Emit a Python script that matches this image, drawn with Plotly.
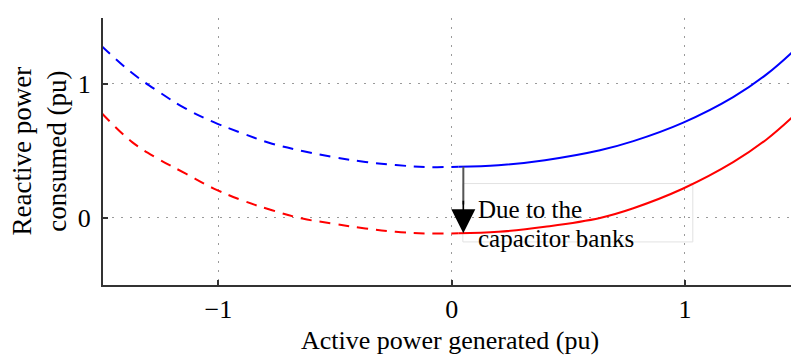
import plotly.graph_objects as go

# ---- data ----
blue_dash_x = [-1.5, -1.37, -1.26, -1.14, -1.02, -0.9, -0.77, -0.64, -0.51, -0.37, -0.24, -0.1, 0.03]
blue_dash_y = [1.28, 1.08, 0.945, 0.814, 0.714, 0.632, 0.553, 0.499, 0.454, 0.417, 0.394, 0.379, 0.381]
red_dash_x = [-1.5, -1.37, -1.26, -1.14, -1.02, -0.9, -0.77, -0.64, -0.51, -0.37, -0.24, -0.1, 0.03]
red_dash_y = [0.78, 0.565, 0.442, 0.33, 0.219, 0.132, 0.057, -0.005, -0.042, -0.079, -0.104, -0.116, -0.115]

blue_solid_x = [0.03, 0.2, 0.4, 0.636, 0.779, 0.993, 1.207, 1.35, 1.46]
blue_solid_y = [0.381, 0.392, 0.43, 0.504, 0.572, 0.71, 0.90, 1.07, 1.235]
red_solid_x = [0.03, 0.2, 0.4, 0.636, 0.779, 0.993, 1.207, 1.35, 1.46]
red_solid_y = [-0.115, -0.104, -0.066, 0.0, 0.072, 0.219, 0.415, 0.585, 0.75]

x_ticks = [-1, 0, 1]
y_ticks = [0, 1]

arrow_x = 0.05
annot_lines = ["Due to the", "capacitor banks"]

FONT = "Liberation Serif, Times New Roman, serif"
FS = 26
AX = "#333333"
GRID = "#9a9a9a"

fig = go.Figure()
for xs, ys, col, dash in [
    (blue_dash_x, blue_dash_y, "#0000ff", "11px,8px"),
    (red_dash_x, red_dash_y, "#ff0000", "11px,8px"),
    (blue_solid_x, blue_solid_y, "#0000ff", "solid"),
    (red_solid_x, red_solid_y, "#ff0000", "solid"),
]:
    fig.add_trace(go.Scatter(x=xs, y=ys, mode="lines",
                             line=dict(color=col, width=2, dash=dash,
                                       shape="spline", smoothing=1.1),
                             showlegend=False))

# text box
fig.add_shape(type="rect", x0=0.048, x1=1.034, y0=-0.179, y1=0.256,
              line=dict(color="#e2e2e2", width=1), layer="below")
# arrow stem
fig.add_shape(type="line", x0=arrow_x, x1=arrow_x, y0=blue_solid_y[0], y1=0.1,
              line=dict(color="#555555", width=2))
# arrow head
fig.add_annotation(x=arrow_x, y=red_solid_y[0], ax=arrow_x, ay=0.14,
                   xref="x", yref="y", axref="x", ayref="y",
                   showarrow=True, arrowhead=2, arrowsize=3, arrowwidth=1.6,
                   arrowcolor="#000000", text="")

fig.add_annotation(x=0.104, y=0.062, xref="x", yref="y", text=annot_lines[0],
                   showarrow=False, xanchor="left", yanchor="middle",
                   font=dict(family=FONT, size=25, color="#000"))
fig.add_annotation(x=0.104, y=-0.155, xref="x", yref="y", text=annot_lines[1],
                   showarrow=False, xanchor="left", yanchor="middle",
                   font=dict(family=FONT, size=25, color="#000"))

# axis titles
fig.add_annotation(x=-0.093, y=0.5, xref="paper", yref="paper",
                   text="Reactive power<br>consumed (pu)", textangle=-90,
                   showarrow=False, xanchor="center", yanchor="middle",
                   font=dict(family=FONT, size=27, color="#000"))
fig.add_annotation(x=0.505, y=-0.206, xref="paper", yref="paper",
                   text="Active power generated (pu)",
                   showarrow=False, xanchor="center", yanchor="middle",
                   font=dict(family=FONT, size=FS, color="#000"))

fig.update_layout(
    width=791, height=356,
    margin=dict(l=103, r=0, t=18, b=71),
    paper_bgcolor="white", plot_bgcolor="white",
    font=dict(family=FONT, size=FS, color="#000"),
    xaxis=dict(range=[-1.495, 1.455], tickvals=x_ticks, showgrid=True,
               gridcolor=GRID, griddash="2px,7px", gridwidth=1,
               showline=True, linecolor=AX, linewidth=2, ticks="inside",
               ticklen=5, tickcolor=AX, tickwidth=2, zeroline=False,
               ticklabelstandoff=0),
    yaxis=dict(range=[-0.5, 1.49], tickvals=y_ticks, showgrid=True,
               gridcolor=GRID, griddash="2px,7px", gridwidth=1,
               showline=True, linecolor=AX, linewidth=2, ticks="inside",
               ticklen=5, tickcolor=AX, tickwidth=2, zeroline=False,
               ticklabelstandoff=5),
)

fig.write_html("out.html")
